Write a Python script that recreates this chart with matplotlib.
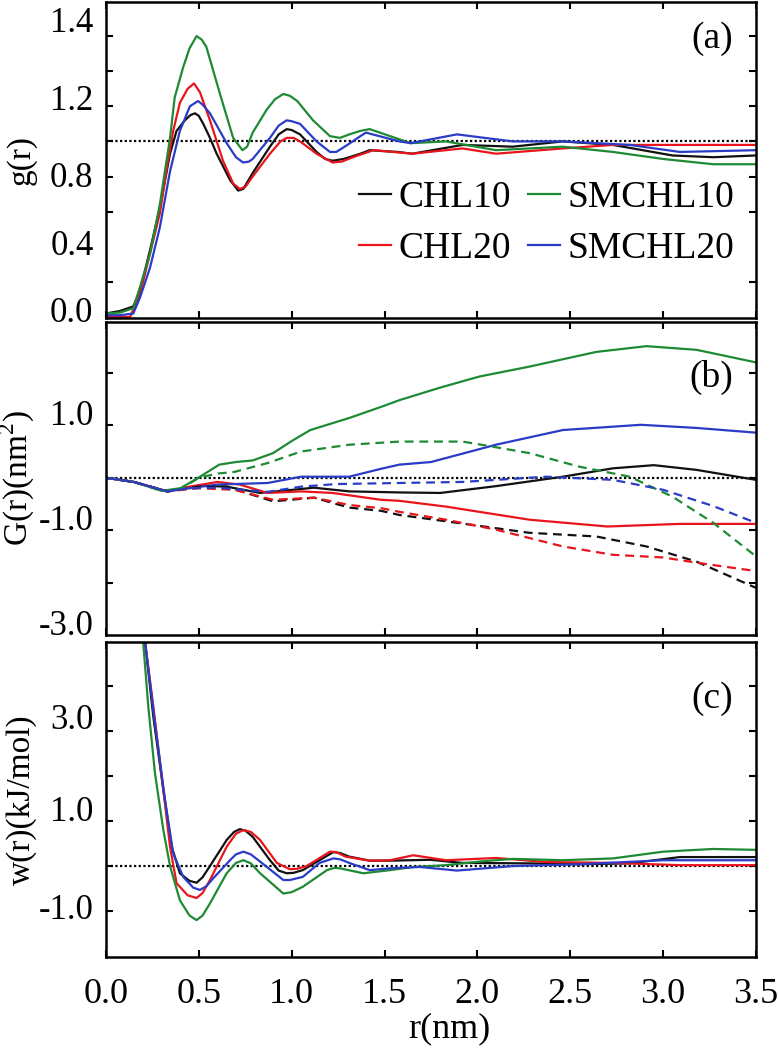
import matplotlib
matplotlib.use("Agg")
import matplotlib.pyplot as plt
import numpy as np

# ---- (a) g(r) ----
r_a_chl10 = [0.0, 0.075, 0.147, 0.183, 0.237, 0.29, 0.345, 0.38, 0.425, 0.455, 0.48, 0.5, 0.524, 0.56, 0.596,
             0.668, 0.712, 0.74, 0.79, 0.883, 0.93, 0.973, 1.0, 1.045, 1.134, 1.18, 1.22, 1.28, 1.37, 1.42,
             1.57, 1.65, 1.92, 2.19, 2.46, 2.73, 3.05, 3.27, 3.5]
g_a_chl10 = [0.02, 0.034, 0.06, 0.15, 0.38, 0.62, 0.93, 1.06, 1.12, 1.15, 1.16, 1.145, 1.10, 1.02, 0.93,
             0.78, 0.72, 0.73, 0.82, 0.97, 1.04, 1.07, 1.065, 1.04, 0.94, 0.90, 0.89, 0.90, 0.93, 0.95,
             0.94, 0.93, 0.98, 0.97, 1.0, 0.98, 0.92, 0.91, 0.92]

r_a_chl20 = [0.0, 0.075, 0.13, 0.183, 0.237, 0.29, 0.334, 0.362, 0.398, 0.44, 0.474, 0.506, 0.56, 0.63,
             0.685, 0.72, 0.75, 0.79, 0.883, 0.94, 0.973, 1.01, 1.045, 1.134, 1.22, 1.27, 1.33, 1.44,
             1.65, 1.92, 2.1, 2.46, 2.73, 3.1, 3.5]
g_a_chl20 = [0.0, 0.0, 0.0, 0.13, 0.36, 0.59, 0.89, 1.06, 1.22, 1.30, 1.33, 1.28, 1.12, 0.89,
             0.76, 0.73, 0.74, 0.80, 0.93, 1.0, 1.02, 1.02, 1.0, 0.93, 0.88, 0.885, 0.91, 0.95,
             0.93, 0.96, 0.93, 0.96, 0.98, 0.98, 0.98]

r_a_sm10 = [0.0, 0.075, 0.147, 0.183, 0.237, 0.29, 0.345, 0.37, 0.415, 0.45, 0.488, 0.515, 0.54, 0.614,
            0.685, 0.735, 0.76, 0.79, 0.865, 0.91, 0.955, 0.99, 1.03, 1.115, 1.206, 1.26, 1.31, 1.37, 1.42,
            1.475, 1.64, 1.83, 2.1, 2.46, 2.73, 3.0, 3.27, 3.5]
g_a_sm10 = [0.02, 0.025, 0.05, 0.17, 0.36, 0.64, 1.02, 1.25, 1.42, 1.53, 1.60, 1.58, 1.54, 1.27,
            1.02, 0.95, 0.97, 1.05, 1.18, 1.24, 1.27, 1.26, 1.23, 1.12, 1.03, 1.02, 1.04, 1.06, 1.07,
            1.05, 0.99, 1.0, 0.95, 0.97, 0.94, 0.90, 0.87, 0.87]

r_a_sm20 = [0.0, 0.075, 0.147, 0.183, 0.237, 0.29, 0.345, 0.398, 0.452, 0.496, 0.52, 0.56, 0.65, 0.70,
            0.738, 0.77, 0.79, 0.883, 0.93, 0.973, 1.0, 1.045, 1.134, 1.206, 1.24, 1.30, 1.37, 1.40,
            1.58, 1.64, 1.89, 2.19, 2.46, 2.82, 3.09, 3.5]
g_a_sm20 = [0.01, 0.01, 0.02, 0.11, 0.28, 0.51, 0.83, 1.06, 1.20, 1.23, 1.21, 1.16, 0.99, 0.91,
            0.88, 0.885, 0.90, 1.02, 1.09, 1.12, 1.115, 1.10, 1.0, 0.94, 0.94, 0.98, 1.03, 1.05,
            1.0, 0.99, 1.04, 1.0, 1.0, 0.98, 0.94, 0.95]

# ---- (b) G(r), solid and dashed ----
r_b_chl10 = [0.0, 0.15, 0.33, 0.5, 0.65, 0.83, 1.12, 1.31, 1.58, 1.8, 2.1, 2.46, 2.73, 2.95, 3.18, 3.5]
G_b_chl10 = [0.0, -0.08, -0.26, -0.15, -0.17, -0.29, -0.19, -0.26, -0.28, -0.29, -0.16, 0.02, 0.18, 0.24, 0.15, -0.04]
r_b_chl10_d = [0.0, 0.15, 0.33, 0.5, 0.65, 0.9, 1.12, 1.31, 1.48, 1.58, 1.83, 2.28, 2.64, 2.91, 3.18, 3.5]
G_b_chl10_d = [0.0, -0.08, -0.26, -0.17, -0.17, -0.45, -0.38, -0.57, -0.63, -0.71, -0.83, -1.05, -1.12, -1.31, -1.6, -2.1]

r_b_chl20 = [0.0, 0.15, 0.33, 0.45, 0.6, 0.72, 0.87, 1.05, 1.22, 1.48, 1.58, 1.83, 2.28, 2.7, 3.09, 3.5]
G_b_chl20 = [0.0, -0.08, -0.26, -0.17, -0.08, -0.13, -0.29, -0.26, -0.29, -0.42, -0.44, -0.55, -0.8, -0.93, -0.88, -0.88]
r_b_chl20_d = [0.0, 0.15, 0.33, 0.5, 0.69, 0.9, 1.12, 1.31, 1.48, 1.58, 1.83, 2.1, 2.46, 2.73, 3.0, 3.18, 3.5]
G_b_chl20_d = [0.0, -0.08, -0.26, -0.2, -0.23, -0.42, -0.38, -0.52, -0.58, -0.65, -0.8, -0.99, -1.31, -1.47, -1.52, -1.62, -1.78]

r_b_sm10 = [0.0, 0.15, 0.3, 0.4, 0.45, 0.52, 0.61, 0.7, 0.79, 0.9, 1.0, 1.1, 1.31, 1.48, 1.58, 1.8, 2.01, 2.28, 2.64, 2.91, 3.18, 3.5]
G_b_sm10 = [0.0, -0.08, -0.25, -0.2, -0.1, 0.05, 0.25, 0.3, 0.33, 0.47, 0.7, 0.91, 1.14, 1.35, 1.48, 1.72, 1.93, 2.12, 2.4, 2.51, 2.44, 2.2]
r_b_sm10_d = [0.0, 0.15, 0.3, 0.4, 0.5, 0.6, 0.69, 0.87, 1.05, 1.31, 1.58, 1.92, 2.07, 2.28, 2.55, 2.82, 3.05, 3.27, 3.5]
G_b_sm10_d = [0.0, -0.08, -0.25, -0.22, 0.0, 0.08, 0.11, 0.28, 0.5, 0.63, 0.69, 0.69, 0.6, 0.47, 0.21, 0.02, -0.36, -0.86, -1.5]

r_b_sm20 = [0.0, 0.15, 0.33, 0.45, 0.6, 0.87, 1.05, 1.31, 1.48, 1.58, 1.75, 2.1, 2.46, 2.88, 3.18, 3.5]
G_b_sm20 = [0.0, -0.08, -0.26, -0.2, -0.13, -0.1, 0.02, 0.02, 0.17, 0.25, 0.3, 0.63, 0.91, 1.01, 0.95, 0.86]
r_b_sm20_d = [0.0, 0.15, 0.33, 0.45, 0.6, 0.87, 1.05, 1.24, 1.58, 1.92, 2.37, 2.73, 3.0, 3.27, 3.5]
G_b_sm20_d = [0.0, -0.08, -0.26, -0.2, -0.19, -0.27, -0.17, -0.12, -0.1, -0.08, 0.02, -0.04, -0.23, -0.54, -0.86]

# ---- (c) w(r) ----
r_c_chl10 = [0.15, 0.21, 0.255, 0.309, 0.354, 0.398, 0.45, 0.488, 0.52, 0.56, 0.65, 0.69, 0.72, 0.75, 0.79,
             0.883, 0.93, 0.973, 1.01, 1.06, 1.15, 1.224, 1.26, 1.31, 1.42, 1.53, 1.745, 1.92, 2.28, 2.55,
             2.82, 3.09, 3.5]
w_c_chl10 = [7.0, 5.0, 3.32, 1.69, 0.43, -0.16, -0.33, -0.37, -0.25, 0.0, 0.58, 0.76, 0.82, 0.79, 0.65,
             0.13, -0.1, -0.16, -0.15, -0.09, 0.13, 0.31, 0.29, 0.21, 0.12, 0.12, 0.14, 0.07, 0.06, 0.04,
             0.06, 0.2, 0.2]

r_c_chl20 = [0.15, 0.21, 0.255, 0.309, 0.345, 0.38, 0.44, 0.488, 0.52, 0.56, 0.65, 0.70, 0.74, 0.78, 0.83,
             0.92, 0.99, 1.03, 1.08, 1.206, 1.24, 1.29, 1.42, 1.53, 1.655, 1.83, 2.1, 2.37, 2.73, 3.09, 3.5]
w_c_chl20 = [7.0, 5.0, 3.54, 1.69, 0.43, -0.38, -0.65, -0.71, -0.6, -0.31, 0.43, 0.72, 0.8, 0.76, 0.58,
             0.07, -0.07, -0.06, 0.0, 0.32, 0.31, 0.21, 0.12, 0.13, 0.24, 0.13, 0.18, 0.09, 0.07, 0.02, 0.02]

r_c_sm10 = [0.15, 0.2, 0.228, 0.264, 0.309, 0.345, 0.398, 0.45, 0.488, 0.52, 0.56, 0.65, 0.70, 0.74, 0.78,
            0.83, 0.955, 1.0, 1.06, 1.19, 1.23, 1.26, 1.385, 1.53, 1.655, 1.83, 2.01, 2.19, 2.46, 2.73,
            3.0, 3.27, 3.5]
w_c_sm10 = [7.0, 5.0, 3.54, 2.06, 0.8, 0.0, -0.76, -1.1, -1.2, -1.1, -0.83, -0.16, 0.07, 0.13, 0.06,
            -0.16, -0.61, -0.58, -0.46, -0.09, -0.04, -0.05, -0.16, -0.09, -0.02, 0.02, 0.1, 0.16, 0.13, 0.17,
            0.32, 0.38, 0.36]

r_c_sm20 = [0.15, 0.21, 0.264, 0.318, 0.362, 0.416, 0.47, 0.506, 0.54, 0.578, 0.668, 0.70, 0.74, 0.78,
            0.83, 0.955, 0.99, 1.06, 1.15, 1.224, 1.26, 1.31, 1.42, 1.53, 1.69, 1.89, 2.19, 2.55, 3.0, 3.5]
w_c_sm20 = [7.0, 5.0, 3.17, 1.47, 0.28, -0.24, -0.48, -0.53, -0.45, -0.27, 0.13, 0.26, 0.32, 0.26,
            0.1, -0.31, -0.31, -0.24, 0.07, 0.17, 0.15, 0.07, -0.09, -0.05, -0.02, -0.1, 0.0, 0.04, 0.13, 0.13]

names = ["CHL10", "CHL20", "SMCHL10", "SMCHL20"]
colors = ["#111111", "#e8161c", "#1f8a34", "#2a3cc6"]

plt.rcParams["font.family"] = ["Liberation Serif", "DejaVu Serif"]
plt.rcParams["mathtext.fontset"] = "custom"
plt.rcParams["mathtext.rm"] = "Liberation Serif"
plt.rcParams["axes.linewidth"] = 1.8

fig = plt.figure(figsize=(7.78, 10.5), dpi=100)
ax_a = fig.add_axes([0.1362, 0.6971, 0.8355, 0.3010])
ax_b = fig.add_axes([0.1362, 0.3952, 0.8355, 0.2981])
ax_c = fig.add_axes([0.1362, 0.0886, 0.8355, 0.3000])

lw = 1.6
dash = (0, (4, 2.6))
dot = (0, (1, 1.1))


def style(ax, ylim, minor, lab_pos, lab_txt, xlabels=False):
    ax.set_xlim(0, 3.5)
    ax.set_ylim(*ylim)
    ax.set_xticks(np.arange(0, 3.51, 0.5))
    if xlabels:
        ax.set_xticklabels(["%.1f" % v for v in np.arange(0, 3.51, 0.5)])
    else:
        ax.set_xticklabels([])
    ax.set_yticks(minor, minor=True)
    ax.set_yticks(lab_pos)
    ax.set_yticklabels(lab_txt)
    for lbl in ax.get_yticklabels():
        lbl.set_verticalalignment("center")
    ax.tick_params(axis="x", which="major", direction="in", top=True, bottom=True,
                   length=5, width=1.5, labelsize=26, pad=15)
    ax.tick_params(axis="y", which="minor", direction="in", left=True, right=True,
                   length=5, width=1.5)
    ax.tick_params(axis="y", which="major", direction="in", left=True, right=True,
                   length=0, labelsize=25, pad=9)
    ax.yaxis.set_label_coords(-0.106, 0.5)


# (a)
for r, g, n, c in zip([r_a_chl10, r_a_chl20, r_a_sm10, r_a_sm20],
                      [g_a_chl10, g_a_chl20, g_a_sm10, g_a_sm20], names, colors):
    ax_a.plot(r, g, color=c, lw=lw, label=n)
ax_a.axhline(1.0, color="black", lw=1.6, ls=dot, zorder=1)
style(ax_a, (-0.006, 1.794), np.arange(0.2, 1.61, 0.2),
      [0.02, 0.4, 0.79, 1.23, 1.67], ["0.0", "0.4", "0.8", "1.2", "1.4"])
ax_a.set_ylabel("g(r)", fontsize=24)
ax_a.text(0.965, 0.883, "(a)", transform=ax_a.transAxes, ha="right", va="center", fontsize=27)
ax_a.legend(ncol=2, loc="center left", bbox_to_anchor=(0.39, 0.30), frameon=False,
            fontsize=27, handlelength=0.85, handletextpad=0.2, columnspacing=0.45,
            labelspacing=0.45, borderpad=0, borderaxespad=0)

# (b)
for r, g, n, c in zip([r_b_chl10, r_b_chl20, r_b_sm10, r_b_sm20],
                      [G_b_chl10, G_b_chl20, G_b_sm10, G_b_sm20], names, colors):
    ax_b.plot(r, g, color=c, lw=lw)
for r, g, c in zip([r_b_chl10_d, r_b_chl20_d, r_b_sm10_d, r_b_sm20_d],
                   [G_b_chl10_d, G_b_chl20_d, G_b_sm10_d, G_b_sm20_d], colors):
    ax_b.plot(r, g, color=c, lw=lw, ls=dash)
ax_b.axhline(0.0, color="black", lw=1.6, ls=dot, zorder=1)
style(ax_b, (-3.0, 2.97), [-2, -1, 0, 1, 2],
      [1.17, -0.83, -2.83], ["1.0", "-1.0", "-3.0"])
ax_b.set_ylabel("G(r)(nm$^2$)", fontsize=24)
ax_b.text(0.965, 0.824, "(b)", transform=ax_b.transAxes, ha="right", va="center", fontsize=27)

# (c)
for r, w, n, c in zip([r_c_chl10, r_c_chl20, r_c_sm10, r_c_sm20],
                      [w_c_chl10, w_c_chl20, w_c_sm10, w_c_sm20], names, colors):
    ax_c.plot(r, w, color=c, lw=lw)
ax_c.axhline(0.0, color="black", lw=1.6, ls=dot, zorder=1)
style(ax_c, (-2.02, 4.98), [-1, 0, 1, 2, 3, 4],
      [3.24, 1.18, -0.98], ["3.0", "1.0", "-1.0"], xlabels=True)
ax_c.set_ylabel("w(r)(kJ/mol)", fontsize=24)
ax_c.set_xlabel("r(nm)", fontsize=26)
ax_c.xaxis.set_label_coords(0.529, -0.175)
ax_c.text(0.965, 0.819, "(c)", transform=ax_c.transAxes, ha="right", va="center", fontsize=27)

fig.savefig("out.png", dpi=100)
